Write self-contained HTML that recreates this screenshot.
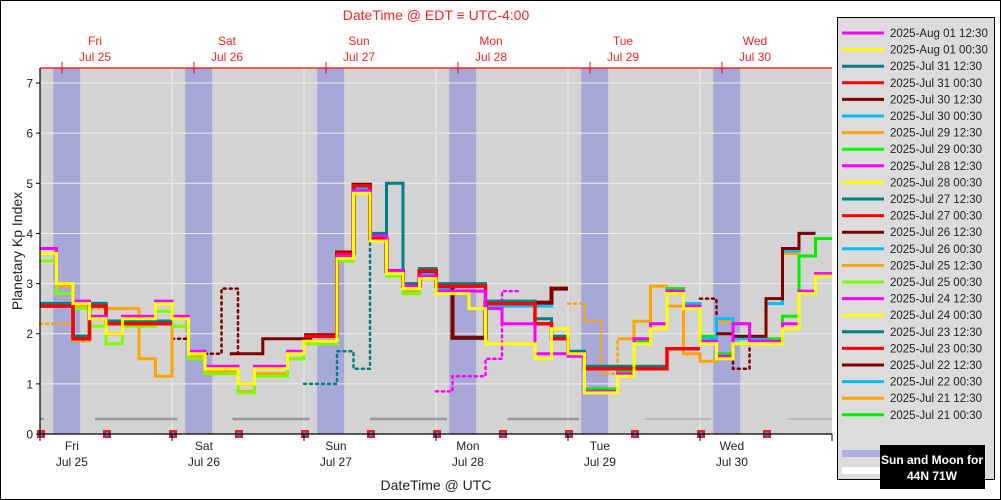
<!DOCTYPE html>
<html><head><meta charset="utf-8">
<style>
html,body{margin:0;padding:0;background:#fff;}
svg{display:block;font-family:"Liberation Sans","DejaVu Sans",sans-serif;}
</style></head>
<body>
<svg id="chart" width="1001" height="500" viewBox="0 0 1001 500" xmlns="http://www.w3.org/2000/svg">
<rect x="0.5" y="0.5" width="1000" height="499" fill="#fff" stroke="#000"/>
<g id="plot"></g>
<g id="axes"></g>
<g id="legend"></g>
</svg>
<script>
// ---- data ----
const yTicks = [0,1,2,3,4,5,6,7];
const dayNames = ["Fri","Sat","Sun","Mon","Tue","Wed"];
const dayDates = ["Jul 25","Jul 26","Jul 27","Jul 28","Jul 29","Jul 30"];
const nightStart = 2.4, nightEnd = 7.3; // hours UTC each day
const moonSegments = [[0,0.7],[10,25],[35,49],[60,74],[85,98],[110,122],[136,144]];
const markerHours = [0,12,24,36,48,60,72,84,96,108,120,132];
// series: start slot (3-hour slots from Jul 25 00 UTC), values
const yellowStart = 0;
const yellowVals = [3.6,3.0,2.6,2.3,2.0,2.3,2.3,2.6,2.3,1.6,1.3,1.3,1.0,1.3,1.3,1.6,1.85,1.85,3.5,4.8,3.85,3.2,2.9,3.1,2.8,2.8,2.5,1.8,1.8,1.8,1.5,2.1,1.6,0.82,0.82,1.15,1.8,2.1,2.8,2.5,1.8,1.5,1.8,1.8,1.8,2.1,2.8,3.15];
const magentaStart = 0;
const magentaVals = [3.7,3.0,2.65,2.35,2.0,2.35,2.35,2.65,2.35,1.65,1.35,1.35,1.0,1.35,1.35,1.65,1.85,1.85,3.55,4.85,3.95,3.25,2.95,3.15,2.85,2.85,2.85,2.5,2.2,2.2,1.6,1.6,1.55,0.85,0.85,1.2,1.9,2.2,2.85,2.55,1.85,1.55,2.2,1.85,1.85,2.2,2.85,3.2];
const limeStart = 0;
const limeVals = [3.45,2.8,2.5,2.15,1.8,2.15,2.15,2.45,2.15,1.5,1.2,1.2,0.82,1.15,1.15,1.5,1.8,1.8,3.45,4.8,3.85,3.15,2.8,3.1];
const greenStart = 33;
const greenVals = [0.9,0.9,1.25,1.85,2.2,2.9,2.6,1.95,1.6,2.2,1.9,1.9,2.35,3.55,3.9];
const orangeStart = 0;
const orangeVals = [3.6,2.95,2.55,2.3,2.5,2.5,1.5,1.15,2.15,1.55,1.25,1.25,0.85,1.2,1.2,1.5,1.85,1.85,3.5,4.8,3.85,3.2,2.85,3.1];
const orange2Start = 35;
const orange2Vals = [1.9,2.25,2.95,2.55,1.6,1.45,2.25,1.9,1.9,2.6,3.6,4.0];
const redStart = 0;
const redVals = [2.55,2.55,1.9,2.55,2.2,2.2,2.2,2.2];
const red2Start = 16;
const red2Vals = [1.95,1.95,3.6,4.95,3.9,3.25,2.95,3.25,2.95,2.95,2.95,2.6,2.6,2.6,2.2,1.9,1.6,1.3,1.3,1.3,1.3,1.3,1.7,1.7];
const tealStart = 0;
const tealVals = [2.6,2.6,1.95,2.6,2.25,2.25,2.25,2.25];
const teal2Start = 16;
const teal2Vals = [1.95,1.95,3.6,4.95,4.0,5.0,3.0,3.3,3.0,3.0,3.0,2.65,2.65,2.65,2.3,1.95,1.65,1.35,1.35,1.35,1.35,1.35,1.7,1.7];
const maroonStart = 11.5;
const maroonVals = [1.6,1.6,1.9,1.9,1.9];
const maroon2Start = 16;
const maroon2Vals = [1.97,1.97,3.62,4.97,3.9,3.25,2.95,3.25,2.95,1.92,1.92,2.62,2.62,2.62,2.62,2.9];
const maroon3Start = 41;
const maroon3Vals = [2.0,1.95,1.95,2.7,3.7,4.0];
const skyStart = 16;
const skyVals = [1.85,1.85,3.5,4.9,3.9,3.25,2.9,3.2,2.9,1.9,1.9,2.55,2.55,2.55,2.55,2.9];
const sky2Start = 39;
const sky2Vals = [2.6,1.9,2.3,1.9,1.9,2.6,3.65,4.0];
// dotted series
const dotOrangeStart = 0, dotOrangeVals = [2.2,2.2,1.85,2.5];
const dotMaroonStart = 8, dotMaroonVals = [1.9,1.6,1.6,2.9,1.6];
const dotTealStart = 16, dotTealVals = [1.0,1.0,1.65,1.3,3.85];
const dotMagentaStart = 24, dotMagentaVals = [0.85,1.15,1.15,1.5,2.85];
const dotOrange2Start = 32, dotOrange2Vals = [2.6,2.25,1.2,1.9];
const dotMaroon2Start = 40, dotMaroon2Vals = [2.7,1.6,1.3,1.95];
const legendLabels = ["2025-Aug 01 12:30","2025-Aug 01 00:30","2025-Jul 31 12:30","2025-Jul 31 00:30","2025-Jul 30 12:30","2025-Jul 30 00:30","2025-Jul 29 12:30","2025-Jul 29 00:30","2025-Jul 28 12:30","2025-Jul 28 00:30","2025-Jul 27 12:30","2025-Jul 27 00:30","2025-Jul 26 12:30","2025-Jul 26 00:30","2025-Jul 25 12:30","2025-Jul 25 00:30","2025-Jul 24 12:30","2025-Jul 24 00:30","2025-Jul 23 12:30","2025-Jul 23 00:30","2025-Jul 22 12:30","2025-Jul 22 00:30","2025-Jul 21 12:30","2025-Jul 21 00:30"];
const legendColors = ["#ff00ff","#ffff00","#008080","#ff0000","#800000","#00bfff","#ffa500","#00ff00","#ff00ff","#ffff00","#008080","#ff0000","#800000","#00bfff","#ffa500","#7cfc00","#ff00ff","#ffff00","#008080","#ff0000","#800000","#00bfff","#ffa500","#00ee00"];

// ---- scales ----
const X0 = 40, PXH = 5.5, Y0 = 434, PXK = 50.14, TOP = 68, RIGHT = 832;
const xH = h => X0 + h * PXH;
const xS = s => xH(s * 3);
const yK = k => Y0 - k * PXK;
const NS = "http://www.w3.org/2000/svg";
function mk(tag, attrs, parent, text) {
  const e = document.createElementNS(NS, tag);
  for (const k in attrs) e.setAttribute(k, attrs[k]);
  if (text !== undefined) e.textContent = text;
  parent.appendChild(e);
  return e;
}
const plot = document.getElementById("plot");
const axes = document.getElementById("axes");
const legend = document.getElementById("legend");

// background
const bg = mk("rect", {x: X0, y: TOP, width: RIGHT - X0, height: Y0 - TOP, fill: "#d3d3d3"}, plot);


// night bands
for (let d = 0; d < 6; d++) {
  const b = mk("rect", {x: xH(d*24+nightStart), y: TOP, width: xH(d*24+nightEnd) - xH(d*24+nightStart), height: Y0 - TOP, fill: "#a8a8d8"}, plot);
  
  
}
// grid
yTicks.forEach(k => {
  if (k === 0) return;
  const g = mk("line", {x1: X0, x2: RIGHT, y1: yK(k), y2: yK(k), stroke: "#ececec", "stroke-width": 1}, plot);
  
  
});
for (let d = 1; d < 6; d++) {
  const g = mk("line", {x1: xH(d*24), x2: xH(d*24), y1: TOP, y2: Y0, stroke: "#ececec", "stroke-width": 1}, plot);
  
  
}
// moon segments
moonSegments.forEach((s, i) => {
  const m = mk("line", {x1: xH(s[0]), x2: xH(s[1]), y1: yK(0.3), y2: yK(0.3), stroke: i < 5 ? "#999" : "#b0b0b0", "stroke-width": i < 5 ? 2.5 : 1.5}, plot);
  
  
});

function stepPath(start, vals) {
  let d = "";
  vals.forEach((v, i) => {
    const x1 = xS(start + i), x2 = xS(start + i + 1), y = yK(v);
    d += (i === 0 ? "M" : "L") + x1.toFixed(1) + "," + y.toFixed(1) + "L" + x2.toFixed(1) + "," + y.toFixed(1);
  });
  return d;
}
function series(name, start, vals, color, w, dotted) {
  const a = {d: stepPath(start, vals), fill: "none", stroke: color, "stroke-width": w, "stroke-linejoin": "miter"};
  if (dotted) { a["stroke-dasharray"] = "2,4"; a["stroke-linecap"] = "round"; }
  const p = mk("path", a, plot);
  
  
}
series("series-dotted-orange", dotOrangeStart, dotOrangeVals, "#ffa500", 2.5, true);
series("series-dotted-maroon", dotMaroonStart, dotMaroonVals, "#800000", 2.5, true);
series("series-dotted-teal", dotTealStart, dotTealVals, "#008080", 2.5, true);
series("series-dotted-magenta", dotMagentaStart, dotMagentaVals, "#ff00ff", 2.5, true);
series("series-dotted-orange-2", dotOrange2Start, dotOrange2Vals, "#ffa500", 2.5, true);
series("series-dotted-maroon-2", dotMaroon2Start, dotMaroon2Vals, "#800000", 2.5, true);
series("series-orange", orangeStart, orangeVals, "#ffa500", 3);
series("series-orange-2", orange2Start, orange2Vals, "#ffa500", 3);
series("series-lime", limeStart, limeVals, "#7cfc00", 3);
series("series-green", greenStart, greenVals, "#00ee00", 3);
series("series-sky", skyStart, skyVals, "#00bfff", 3);
series("series-sky-2", sky2Start, sky2Vals, "#00bfff", 3);
series("series-maroon", maroonStart, maroonVals, "#800000", 3);
series("series-maroon-2", maroon2Start, maroon2Vals, "#800000", 4);
series("series-maroon-3", maroon3Start, maroon3Vals, "#800000", 3);
series("series-teal", tealStart, tealVals, "#008080", 3.5);
series("series-teal-2", teal2Start, teal2Vals, "#008080", 3);
series("series-red", redStart, redVals, "#ff0000", 3.5);
series("series-red-2", red2Start, red2Vals, "#ff0000", 3.5);
series("series-magenta", magentaStart, magentaVals, "#ff00ff", 3);
series("series-yellow", yellowStart, yellowVals, "#ffff00", 3);

// markers
markerHours.forEach(h => {
  const r = mk("rect", {x: xH(h) - 4 + 1, y: Y0 - 4, width: 8, height: 8, fill: "#e0203a"}, plot);
  
  
  const c = mk("circle", {cx: xH(h) + 1, cy: Y0, r: 2, fill: "#20a0c0"}, plot);
  
  
});

// axes lines
const ya = mk("line", {x1: X0, x2: X0, y1: TOP, y2: Y0, stroke: "#000", "stroke-width": 1.2}, axes);
 
const xa = mk("line", {x1: X0, x2: RIGHT, y1: Y0, y2: Y0, stroke: "#000", "stroke-width": 1.2}, axes);
 
const ta = mk("line", {x1: X0, x2: RIGHT, y1: TOP, y2: TOP, stroke: "#ff0000", "stroke-width": 1.2}, axes);
 
yTicks.forEach(k => {
  const t = mk("line", {x1: X0 - 4, x2: X0, y1: yK(k), y2: yK(k), stroke: "#000"}, axes);
   
  const l = mk("text", {x: X0 - 7, y: yK(k) + 4.5, "text-anchor": "end", "font-size": 12, fill: "#222"}, axes, String(k));
   
});
for (let d = 0; d <= 6; d++) {
  const t = mk("line", {x1: xH(d*24), x2: xH(d*24), y1: Y0, y2: Y0 + 7, stroke: "#000"}, axes);
   
}
for (let d = 0; d < 6; d++) {
  const cx = xH(d*24 + 5.8);
  const a = mk("text", {x: cx, y: 450, "text-anchor": "middle", "font-size": 12, fill: "#222"}, axes, dayNames[d]);
   
  const b = mk("text", {x: cx, y: 466, "text-anchor": "middle", "font-size": 12, fill: "#222"}, axes, dayDates[d]);
   
  const tt = mk("line", {x1: xH(d*24+4), x2: xH(d*24+4), y1: 62, y2: 74, stroke: "#ff0000"}, axes);
   
  const tx = xH(d*24 + 10);
  const c = mk("text", {x: tx, y: 45, "text-anchor": "middle", "font-size": 12, fill: "#ff2020"}, axes, dayNames[d]);
   
  const e = mk("text", {x: tx, y: 61, "text-anchor": "middle", "font-size": 12, fill: "#ff2020"}, axes, dayDates[d]);
   
}
const t1 = mk("text", {x: 436, y: 20, "text-anchor": "middle", "font-size": 14, fill: "#ff2020"}, axes, "DateTime @ EDT \u2261 UTC-4:00");
 
const t2 = mk("text", {x: 436, y: 490, "text-anchor": "middle", "font-size": 14, fill: "#222"}, axes, "DateTime @ UTC");
 
const t3 = mk("text", {x: 0, y: 0, "text-anchor": "middle", "font-size": 14, fill: "#222", transform: "translate(22,251) rotate(-90)"}, axes, "Planetary Kp Index");
 

// legend
const lb = mk("rect", {x: 837.5, y: 17.5, width: 157, height: 462, fill: "#dcdcdc", stroke: "#000"}, legend);
 
legendLabels.forEach((lab, i) => {
  const y = 33 + i * 16.6;
  const ln = mk("line", {x1: 842, x2: 884, y1: y, y2: y, stroke: legendColors[i], "stroke-width": 3}, legend);
   
  const tx = mk("text", {x: 890, y: y + 4, "font-size": 11.5, fill: "#222"}, legend, lab);
   
});
const nb = mk("rect", {x: 842, y: 450, width: 40, height: 7, fill: "#b0b0e0"}, legend);
 
const mb = mk("rect", {x: 842, y: 467, width: 40, height: 7, fill: "#fff"}, legend);
 
const kb = mk("rect", {x: 880, y: 445, width: 105, height: 44, fill: "#000"}, legend);
 
const k1 = mk("text", {x: 932, y: 464, "text-anchor": "middle", "font-size": 12, "font-weight": "bold", fill: "#fff"}, legend, "Sun and Moon for");
 
const k2 = mk("text", {x: 932, y: 480, "text-anchor": "middle", "font-size": 12, "font-weight": "bold", fill: "#fff"}, legend, "44N 71W");
 
</script>
</body></html>
